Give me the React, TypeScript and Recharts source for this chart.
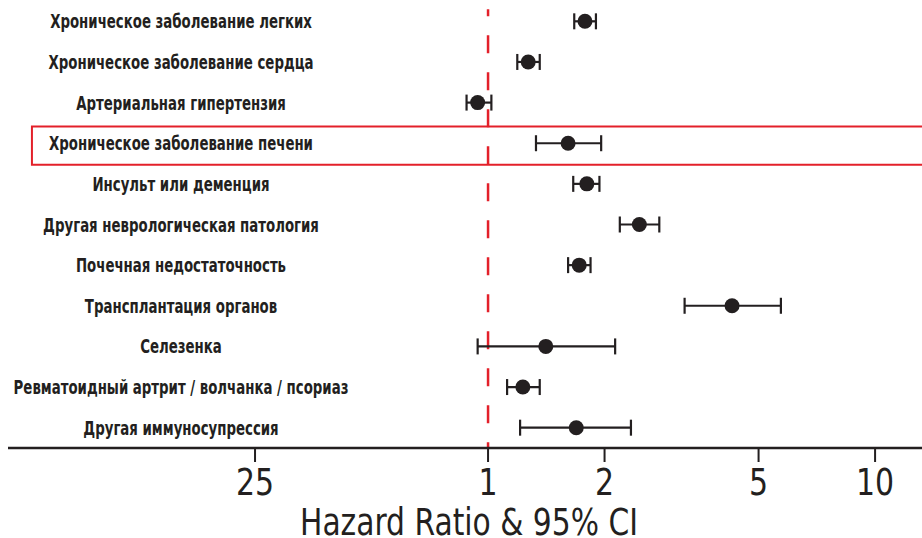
import { ErrorBar, ReferenceArea, ReferenceLine, Scatter, ScatterChart, XAxis, YAxis } from "recharts";

// Forest plot: hazard ratios with 95% CI on a log axis.

const categories = [
  "Хроническое заболевание легких",
  "Хроническое заболевание сердца",
  "Артериальная гипертензия",
  "Хроническое заболевание печени",
  "Инсульт или деменция",
  "Другая неврологическая патология",
  "Почечная недостаточность",
  "Трансплантация органов",
  "Селезенка",
  "Ревматоидный артрит / волчанка / псориаз",
  "Другая иммуносупрессия",
];

const hazardRatio = [1.78, 1.27, 0.94, 1.61, 1.8, 2.46, 1.72, 4.27, 1.41, 1.23, 1.69];
const ciLower = [1.67, 1.19, 0.88, 1.33, 1.66, 2.19, 1.61, 3.22, 0.94, 1.12, 1.21];
const ciUpper = [1.9, 1.36, 1.02, 1.96, 1.94, 2.77, 1.84, 5.71, 2.13, 1.36, 2.34];

const xTicks = [0.25, 1, 2, 5, 10];
const xTickLabels = ["25", "1", "2", "5", "10"];

const highlighted = "Хроническое заболевание печени";

const INK = "#231f20";
const RED = "#e3202a";
const FONT = "'DejaVu Sans Condensed', 'Liberation Sans Narrow', Roboto, sans-serif";

const rowOf = (i: number) => categories.length - i;

const data = categories.map((name, i) => ({
  name,
  row: rowOf(i),
  hr: hazardRatio[i],
  err: [hazardRatio[i] - ciLower[i], ciUpper[i] - hazardRatio[i]],
}));

const highlightRow = rowOf(categories.indexOf(highlighted));

function CategoryTick(props: any) {
  const { y, payload } = props;
  const label = categories[categories.length - Number(payload.value)];
  return (
    <g transform={`translate(181, ${y + 7}) scale(0.78, 1)`}>
      <text x={0} y={0} textAnchor="middle" fontFamily={FONT} fontWeight={700} fontSize={19} fill={INK}>
        {label}
      </text>
    </g>
  );
}

function RatioTick(props: any) {
  const { x, y, payload } = props;
  const label = xTickLabels[xTicks.indexOf(payload.value)];
  return (
    <g transform={`translate(${x}, ${y + 31}) scale(0.9, 1)`}>
      <text x={0} y={0} textAnchor="middle" fontFamily={FONT} fontSize={37} fill={INK}>
        {label}
      </text>
    </g>
  );
}

export default function App() {
  return (
    <div style={{ position: "absolute", left: 0, top: 0, background: "#fff" }}>
      <ScatterChart
        width={922}
        height={538}
        margin={{ top: 1, right: 0, bottom: 0, left: 7 }}
        accessibilityLayer={false}
      >
        <XAxis
          type="number"
          dataKey="hr"
          scale="log"
          domain={[0.0575, 13.22]}
          allowDataOverflow
          ticks={xTicks}
          tick={<RatioTick />}
          tickSize={14}
          tickMargin={2}
          interval={0}
          axisLine={{ stroke: INK, strokeWidth: 2.5 }}
          tickLine={{ stroke: INK, strokeWidth: 2 }}
          height={90}
          label={() => (
            <text
              x={469}
              y={535}
              textAnchor="middle"
              fontFamily={FONT}
              fontSize={37}
              fill={INK}
              textLength={338}
              lengthAdjust="spacingAndGlyphs"
            >
              Hazard Ratio &amp; 95% CI
            </text>
          )}
        />
        <YAxis
          type="number"
          dataKey="row"
          domain={[0.5, 11.5]}
          ticks={categories.map((_, i) => rowOf(i))}
          interval={0}
          width={1}
          axisLine={false}
          tickLine={false}
          tick={<CategoryTick />}
        />
        <ReferenceLine
          segment={[
            { x: 1, y: 11.3 },
            { x: 1, y: 0.5 },
          ]}
          stroke={RED}
          strokeWidth={2.5}
          strokeDasharray="18 19"
          strokeDashoffset={11}
        />
        <ReferenceArea
          x1={0.0663}
          x2={20}
          y1={highlightRow - 0.53}
          y2={highlightRow + 0.41}
          ifOverflow="visible"
          fill="none"
          stroke={RED}
          strokeWidth={2}
        />
        <Scatter
          data={data}
          isAnimationActive={false}
          shape={(p: any) => <circle cx={p.cx} cy={p.cy} r={7.5} fill={INK} />}
        >
          <ErrorBar dataKey="err" direction="x" width={8} stroke={INK} strokeWidth={2.2} />
        </Scatter>
      </ScatterChart>
    </div>
  );
}
